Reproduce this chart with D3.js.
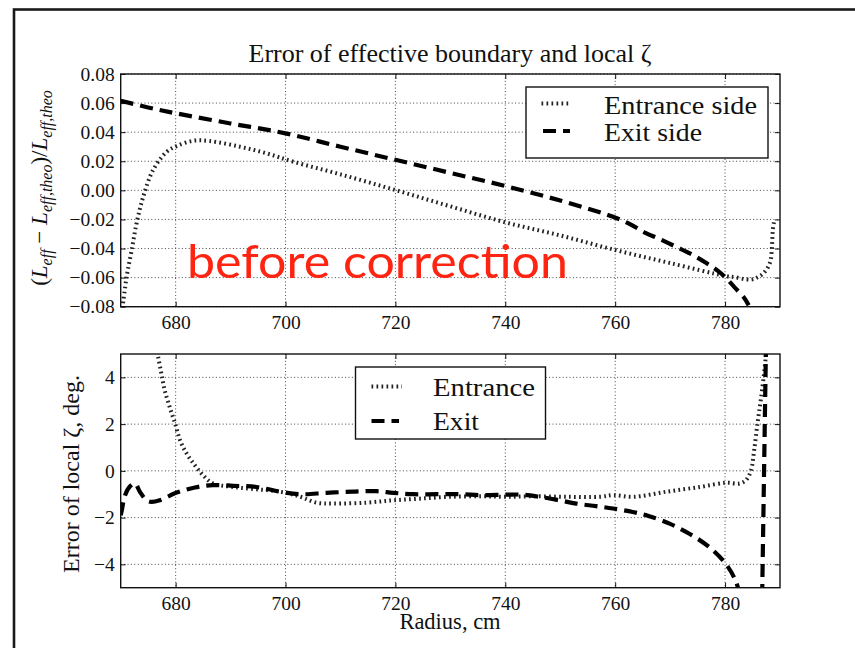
<!DOCTYPE html>
<html>
<head>
<meta charset="utf-8">
<script src="https://cdn.jsdelivr.net/npm/d3@7"></script>
<style>
  html, body { margin: 0; padding: 0; background: #fff; }
  svg { display: block; }
  text { font-family: "Liberation Serif", "DejaVu Serif", serif; fill: #111; }
</style>
</head>
<body>
<svg id="chart" width="855" height="648"></svg>
<script>
// ---- data ----------------------------------------------------------------
const radiusTicks = [680, 700, 720, 740, 760, 780];
const boundaryTicks = [0.08, 0.06, 0.04, 0.02, 0.00, -0.02, -0.04, -0.06, -0.08];
const zetaTicks = [4, 2, 0, -2, -4];

// relative error of effective boundary, entrance side  [radius cm, value]
const entranceSide = [
  [670.3, -0.081], [670.5, -0.0755], [671.1, -0.059], [672.0, -0.041], [672.9, -0.0225],
  [674.1, -0.0044], [675.9, 0.014], [678.4, 0.0266], [680.2, 0.0305], [683.2, 0.0341],
  [686.2, 0.0339], [691.7, 0.030], [696.5, 0.0255], [701.4, 0.0197], [710, 0.011],
  [720, 0.0002], [730, -0.011], [740, -0.022], [750, -0.031], [760, -0.041],
  [770, -0.050], [780.1, -0.0589], [781.9, -0.0598], [783.8, -0.0612], [785.0, -0.0612],
  [785.9, -0.0598], [786.8, -0.0576], [787.7, -0.0536], [788.3, -0.048], [788.5, -0.041],
  [788.6, -0.034], [788.7, -0.027], [788.9, -0.022]
];
// relative error of effective boundary, exit side
const exitSide = [
  [670, 0.0616], [675, 0.057], [680, 0.053], [690, 0.046], [700, 0.0392],
  [710, 0.030], [720, 0.021], [730, 0.012], [740, 0.003], [750, -0.007],
  [759.5, -0.018], [762.6, -0.023], [765.4, -0.029], [768.1, -0.0335], [771.2, -0.039],
  [773.9, -0.044], [776.6, -0.050], [779.4, -0.0575], [781.7, -0.0665], [783.5, -0.074],
  [784.3, -0.079]
];
// error of local zeta (deg.), entrance
const entranceZeta = [
  [676.6, 5.3], [676.8, 4.9], [677.4, 4.17], [678.0, 3.46], [678.9, 2.74], [679.9, 2.03],
  [680.8, 1.31], [682.0, 0.74], [683.5, 0.24], [685.0, -0.19], [686.8, -0.54],
  [690.5, -0.69], [694.7, -0.79], [699.0, -0.89], [702.6, -1.1], [705.6, -1.36],
  [708.7, -1.40], [714.7, -1.36], [719.6, -1.26], [724.4, -1.19], [729.9, -1.11],
  [735.9, -1.09], [740.2, -1.11], [745.1, -1.09], [751.2, -1.11], [757.3, -1.11],
  [759.6, -1.04], [763.3, -1.11], [769.4, -0.89], [775.4, -0.69], [780.2, -0.51],
  [782.6, -0.54], [783.8, -0.40], [784.7, 0.0], [785.3, 0.89], [785.9, 2.03],
  [786.5, 3.03], [787.1, 4.17], [787.4, 4.89], [787.5, 5.3]
];
// error of local zeta (deg.), exit; null marks the break at the pole
const exitZeta = [
  [670.0, -1.9], [670.2, -1.69], [670.8, -1.04], [671.7, -0.66], [672.6, -0.54], [673.5, -0.90],
  [674.7, -1.26], [675.6, -1.33], [677.1, -1.26], [680.2, -0.93], [683.5, -0.71],
  [686.8, -0.61], [690.5, -0.64], [694.7, -0.69], [699.0, -0.89], [702.6, -1.0],
  [707.5, -0.94], [712.3, -0.89], [716.5, -0.87], [719.6, -0.94], [723.2, -1.0],
  [727.5, -1.0], [731.7, -1.0], [735.9, -1.04], [740.2, -1.02], [743.2, -1.02],
  [746.2, -1.11], [749.8, -1.26], [752.9, -1.40], [756.5, -1.51], [759.6, -1.61],
  [763.2, -1.76], [766.2, -1.94], [769.9, -2.26], [773.5, -2.69], [777.1, -3.26],
  [780.1, -3.97], [781.9, -4.69], [782.8, -5.4],
  [784.0, null],
  [786.75, -5.4], [787.45, 5.4]
];

// ---- layout --------------------------------------------------------------
const svg = d3.select("#chart");
const xLeft = 120.7, xRight = 780;

const x = d3.scaleLinear().domain([670, 790]).range([xLeft, xRight]);
const yTop = d3.scaleLinear().domain([-0.08, 0.08]).range([306.7, 74]);
const yBot = d3.scaleLinear().domain([-5, 5]).range([587.7, 354]);

// outer page frame
svg.append("rect")
  .attr("x", 14).attr("y", 9.5).attr("width", 900).attr("height", 700)
  .attr("fill", "none").attr("stroke", "#1a1a1a").attr("stroke-width", 2.6);

const dotted = { width: 4, dash: "1.7,3.3", color: "#222" };
const dashed = { width: 4.2, dash: "13,7", color: "#000" };

function panel(id, y, yTicks, yFormat) {
  const g = svg.append("g");
  const [y0, y1] = y.range();

  // grid
  const grid = g.append("g").attr("stroke", "#333").attr("stroke-width", 0.9)
    .attr("stroke-dasharray", "1,2.4");
  grid.selectAll(".gx").data(radiusTicks).join("line")
    .attr("x1", d => x(d)).attr("x2", d => x(d)).attr("y1", y1).attr("y2", y0);
  grid.selectAll(".gy").data(yTicks).join("line")
    .attr("x1", xLeft).attr("x2", xRight).attr("y1", d => y(d)).attr("y2", d => y(d));

  // axes with inward ticks on all four sides
  const font = g => g.selectAll("text")
    .style("font-family", '"Liberation Serif", serif').style("font-size", "19.5px").attr("fill", "#111");
  const clean = g => { g.select(".domain").remove(); g.selectAll("line").attr("stroke", "#111"); };

  g.append("g").attr("transform", `translate(${xLeft},0)`)
    .call(d3.axisLeft(y).tickValues(yTicks).tickFormat(yFormat).tickSize(-5).tickPadding(6))
    .call(clean).call(font);
  g.append("g").attr("transform", `translate(${xRight},0)`)
    .call(d3.axisRight(y).tickValues(yTicks).tickFormat("").tickSize(-5))
    .call(clean);
  g.append("g").attr("transform", `translate(0,${y0})`)
    .call(d3.axisBottom(x).tickValues(radiusTicks).tickFormat(d3.format("d")).tickSize(-5).tickPadding(8))
    .call(clean).call(font);
  g.append("g").attr("transform", `translate(0,${y1})`)
    .call(d3.axisTop(x).tickValues(radiusTicks).tickFormat("").tickSize(-5))
    .call(clean);

  // clip for curves
  svg.append("clipPath").attr("id", id)
    .append("rect").attr("x", xLeft).attr("y", y1).attr("width", xRight - xLeft).attr("height", y0 - y1);

  return g;
}

function curve(g, clipId, y, data, style) {
  const line = d3.line()
    .defined(d => d[1] !== null)
    .x(d => x(d[0])).y(d => y(d[1]))
    .curve(d3.curveCatmullRom.alpha(0.5));
  g.append("path").datum(data)
    .attr("clip-path", `url(#${clipId})`)
    .attr("d", line)
    .attr("fill", "none")
    .attr("stroke", style.color)
    .attr("stroke-width", style.width)
    .attr("stroke-dasharray", style.dash)
    .attr("stroke-linecap", "butt");
}

function frame(g, y) {
  const [y0, y1] = y.range();
  g.append("rect").attr("x", xLeft).attr("y", y1).attr("width", xRight - xLeft).attr("height", y0 - y1)
    .attr("fill", "none").attr("stroke", "#111").attr("stroke-width", 1.4);
}

function legend(g, box, rows) {
  g.append("rect").attr("x", box.x).attr("y", box.y).attr("width", box.w).attr("height", box.h)
    .attr("fill", "#fff").attr("stroke", "#111").attr("stroke-width", 1.4);
  rows.forEach(r => {
    g.append("line").attr("x1", r.x1).attr("x2", r.x2).attr("y1", r.ly).attr("y2", r.ly)
      .attr("stroke", r.style.color).attr("stroke-width", r.style.width)
      .attr("stroke-dasharray", r.style.dash);
    g.append("text").attr("x", r.tx).attr("y", r.ty).text(r.label)
      .attr("textLength", r.tw).attr("lengthAdjust", "spacingAndGlyphs")
      .style("font-size", "24.5px");
  });
}

// ---- upper panel: effective boundary ------------------------------------
const upper = panel("clipTop", yTop, boundaryTicks, d3.format(".2f"));
curve(upper, "clipTop", yTop, entranceSide, dotted);
curve(upper, "clipTop", yTop, exitSide, dashed);
frame(upper, yTop);
legend(upper, { x: 526, y: 87, w: 242, h: 71 }, [
  { label: "Entrance side", style: dotted, x1: 541.5, x2: 570.5, ly: 103.5, tx: 604, ty: 113.5, tw: 153 },
  { label: "Exit side", style: dashed, x1: 543, x2: 570, ly: 131, tx: 604, ty: 141, tw: 98 }
]);

svg.append("text").attr("x", 450).attr("y", 62).attr("text-anchor", "middle")
  .style("font-size", "26px").text("Error of effective boundary and local ζ");

// y label with math-style subscripts
const yl = svg.append("text")
  .attr("transform", "translate(47,188) rotate(-90)")
  .attr("text-anchor", "middle")
  .style("font-size", "23px");
const parts = [
  ["(", null], ["L", "i"], ["eff", "s"], [" − ", null], ["L", "i"], ["eff,theo", "s"],
  [")/", null], ["L", "i"], ["eff,theo", "s"]
];
let shifted = false;
parts.forEach(([t, k]) => {
  const ts = yl.append("tspan").text(t);
  if (k === "i") ts.style("font-style", "italic");
  if (k === "s") {
    ts.style("font-style", "italic").style("font-size", "16px").attr("dy", 5);
    shifted = true;
  } else if (shifted) {
    ts.attr("dy", -5);
    shifted = false;
  }
});

// annotation
svg.append("text").attr("x", 187).attr("y", 278)
  .attr("textLength", 381).attr("lengthAdjust", "spacingAndGlyphs")
  .style("font-family", "Lato, 'Open Sans', sans-serif").style("font-size", "47px")
  .attr("fill", "#ff2412").style("fill", "#ff2412")
  .text("before correction");

// ---- lower panel: local zeta ---------------------------------------------
const lower = panel("clipBot", yBot, zetaTicks, d3.format("d"));
curve(lower, "clipBot", yBot, entranceZeta, dotted);
curve(lower, "clipBot", yBot, exitZeta, dashed);
frame(lower, yBot);
legend(lower, { x: 355.5, y: 367, w: 190, h: 72 }, [
  { label: "Entrance", style: dotted, x1: 371.5, x2: 402, ly: 386.5, tx: 433, ty: 395.5, tw: 102 },
  { label: "Exit", style: dashed, x1: 371.5, x2: 399, ly: 421, tx: 433, ty: 429.5, tw: 46 }
]);

svg.append("text").attr("transform", "translate(79,474) rotate(-90)")
  .attr("text-anchor", "middle").style("font-size", "24px").text("Error of local ζ, deg.");

svg.append("text").attr("x", 450).attr("y", 629).attr("text-anchor", "middle")
  .style("font-size", "22.5px").text("Radius, cm");
</script>
</body>
</html>
